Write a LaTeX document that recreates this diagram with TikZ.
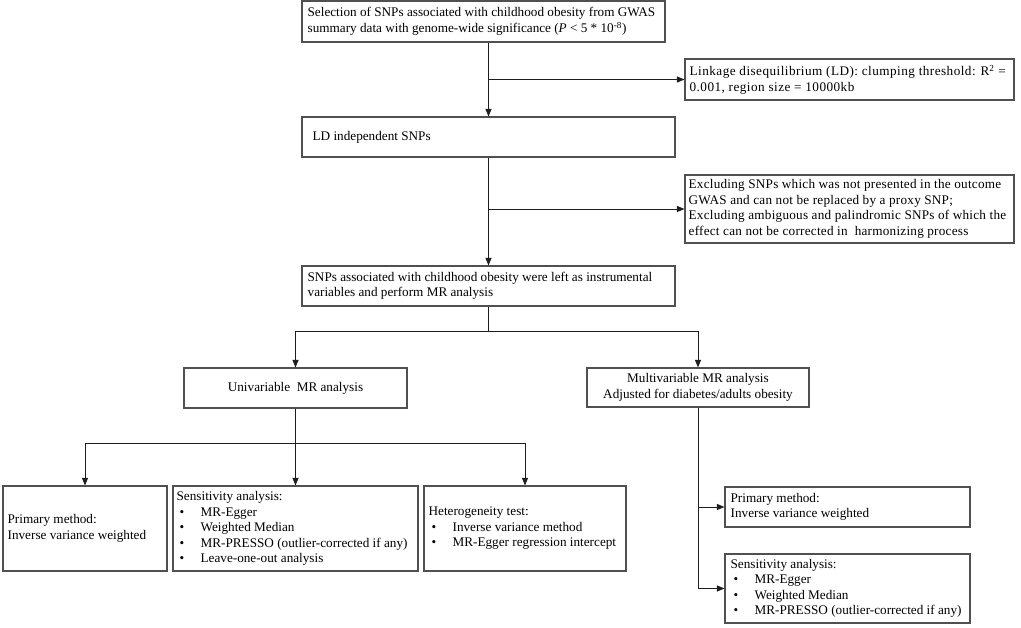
\documentclass[tikz,border=0pt]{standalone}
\usepackage{fontspec}
\setmainfont{Liberation Serif}
\usetikzlibrary{arrows.meta,calc}
\definecolor{boxgray}{RGB}{80,80,80}
\definecolor{linegray}{RGB}{30,30,30}
\newcommand\bitem[1]{\makebox[24pt][l]{\hspace{3pt}\textbullet}#1}
\begin{document}
\begin{tikzpicture}[x=1pt,y=-1pt,
  box/.style={draw=boxgray, line width=1.1pt, inner sep=0pt, fill=white},
  txt/.style={align=left, inner sep=0pt, font=\fontsize{13.2}{15.5}\selectfont, anchor=west},
  widetxt/.style={txt, font=\fontsize{13.2}{15.5}\selectfont\addfontfeatures{LetterSpace=3.5}},
  midtxt/.style={txt, font=\fontsize{13.2}{15.5}\selectfont\addfontfeatures{LetterSpace=1.8}},
  ctxt/.style={align=center, font=\fontsize{13.2}{15.5}\selectfont},
  arr/.style={draw=linegray, line width=0.9pt, -{Triangle[length=7.5pt,width=6pt]}},
  ln/.style={draw=linegray, line width=0.9pt}]
\useasboundingbox (0,0) rectangle (1021,628);
\fill[white] (0,0) rectangle (1021,628);

% boxes
\node[box, minimum width=363pt, minimum height=41pt] (b1) at (483.5,21.5) {};
\node[box, minimum width=329pt, minimum height=41pt] (ld) at (849.5,79.5) {};
\node[box, minimum width=373pt, minimum height=40pt] (b2) at (488.5,137) {};
\node[box, minimum width=329pt, minimum height=68pt] (ex) at (849.5,209) {};
\node[box, minimum width=373pt, minimum height=40pt] (b3) at (488.5,286) {};
\node[box, ctxt, minimum width=223pt, minimum height=40pt] (uni) at (295.5,388) {Univariable\ \ MR analysis};
\node[box, ctxt, minimum width=222pt, minimum height=39pt] (multi) at (698,387.5) {Multivariable MR analysis\\Adjusted for diabetes/adults obesity};
\node[box, minimum width=164pt, minimum height=85pt] (prim) at (85,528.5) {};
\node[box, minimum width=245pt, minimum height=85pt] (sens) at (295.5,528.5) {};
\node[box, minimum width=202pt, minimum height=85pt] (het) at (525,528.5) {};
\node[box, minimum width=245pt, minimum height=40pt] (mprim) at (847.5,507) {};
\node[box, minimum width=245pt, minimum height=69pt] (msens) at (847.5,588.5) {};

% texts
\node[txt] (t1) at ([xshift=6pt]b1.west) {Selection of SNPs associated with childhood obesity from GWAS\\summary data with genome-wide significance (\textit{P} < 5 * 10\textsuperscript{-8})};
\node[widetxt] (tld) at ([xshift=5pt]ld.west) {Linkage disequilibrium (LD): clumping threshold: R\textsuperscript{2} =\\0.001, region size = 10000kb};
\node[txt] (t2) at ([xshift=11pt]b2.west) {LD independent SNPs};
\node[midtxt] (tex) at ([xshift=4pt]ex.west) {Excluding SNPs which was not presented in the outcome\\GWAS and can not be replaced by a proxy SNP;\\Excluding ambiguous and palindromic SNPs of which the\\effect can not be corrected in\ \ harmonizing process};
\node[txt] (t3) at ([xshift=6pt]b3.west) {SNPs associated with childhood obesity were left as instrumental\\variables and perform MR analysis};
\node[txt] (tprim) at ([xshift=5pt]prim.west) {Primary method:\\Inverse variance weighted};
\node[txt] (tsens) at ([xshift=4pt]sens.west) {Sensitivity analysis:\\\bitem{MR-Egger}\\\bitem{Weighted Median}\\\bitem{MR-PRESSO (outlier-corrected if any)}\\\bitem{Leave-one-out analysis}};
\node[txt] (thet) at ([xshift=5pt]het.west) {Heterogeneity test:\\\bitem{Inverse variance method}\\\bitem{MR-Egger regression intercept}};
\node[txt] (tmprim) at ([xshift=6pt]mprim.west) {Primary method:\\Inverse variance weighted};
\node[txt] (tmsens) at ([xshift=6pt]msens.west) {Sensitivity analysis:\\\bitem{MR-Egger}\\\bitem{Weighted Median}\\\bitem{MR-PRESSO (outlier-corrected if any)}};

% connectors
\draw[arr] (b2.north |- b1.south) -- (b2.north);
\draw[arr] (b2.north |- ld.west) -- (ld.west);
\draw[arr] (b2.south) -- (b3.north);
\draw[arr] (b2.south |- ex.west) -- (ex.west);
\draw[ln] (b3.south) -- ++(0,25) coordinate (s1);
\draw[arr] (s1) -| (uni.north);
\draw[arr] (s1) -| (multi.north);
\draw[arr] (uni.south) -- (sens.north);
\draw[ln] (uni.south) -- ++(0,35) coordinate (s2);
\draw[arr] (s2) -| (prim.north);
\draw[arr] (s2) -| (het.north);
\draw[arr] (multi.south) |- (mprim.west);
\draw[arr] (multi.south) |- (msens.west);
\end{tikzpicture}
\end{document}
